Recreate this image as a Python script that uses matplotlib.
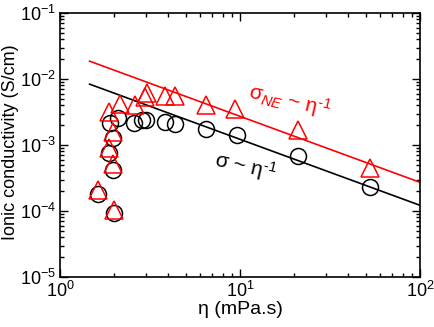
import numpy as np
import matplotlib
matplotlib.use("Agg")
import matplotlib.pyplot as plt
from matplotlib.ticker import LogLocator, NullFormatter

plt.rcParams['font.family'] = ['Liberation Sans', 'DejaVu Sans']
plt.rcParams['mathtext.fontset'] = 'custom'
plt.rcParams['mathtext.rm'] = 'Liberation Sans'
plt.rcParams['mathtext.it'] = 'Liberation Sans:italic'
plt.rcParams['mathtext.bf'] = 'Liberation Sans:bold'

# data
eta_sigma = [1.63, 2.0, 1.86, 1.98, 1.98, 1.90, 2.11, 2.58, 2.84, 3.0, 3.85, 4.35, 6.44, 9.58, 21.1, 52.7]
sigma = [1.81e-4, 9.2e-5, 7.5e-4, 4.2e-4, 1.26e-3, 2.13e-3, 2.53e-3, 2.18e-3, 2.39e-3, 2.39e-3, 2.21e-3, 2.06e-3, 1.75e-3, 1.40e-3, 6.8e-4, 2.33e-4]
eta_ne = [1.63, 2.0, 1.86, 1.98, 1.96, 1.88, 2.15, 2.61, 2.97, 3.05, 3.83, 4.35, 6.44, 9.38, 21.1, 52.7]
sigma_ne = [2.08e-4, 1.03e-4, 8.9e-4, 5.1e-4, 1.59e-3, 3.2e-3, 4.2e-3, 4.0e-3, 5.4e-3, 6.1e-3, 5.6e-3, 5.5e-3, 4.1e-3, 3.47e-3, 1.69e-3, 4.5e-4]
fit_eta = [1.46, 100.0]
fit_c_sigma = 0.0122
fit_c_ne = 0.0272

fig = plt.figure(figsize=(4.35, 3.27), dpi=100)
ax = fig.add_axes([60/435, 1 - 277/327, 360/435, 264/327])

fe = np.array(fit_eta)
ax.plot(fe, fit_c_sigma / fe, color='black', lw=1.2)
ax.plot(fe, fit_c_ne / fe, color='#ff0000', lw=1.2)
ax.plot(eta_sigma, sigma, 'o', ms=11.5, mfc='none', mec='black', mew=1.1)
ax.plot(eta_ne, sigma_ne, '^', ms=12.5, mfc='none', mec='#ff0000', mew=1.1)

ax.set_xscale('log')
ax.set_yscale('log')
ax.set_xlim(1, 100)
ax.set_ylim(1e-5, 1e-1)
ax.xaxis.set_minor_locator(LogLocator(base=10, subs=np.arange(2, 10), numticks=20))
ax.yaxis.set_minor_locator(LogLocator(base=10, subs=np.arange(2, 10), numticks=20))
ax.xaxis.set_minor_formatter(NullFormatter())
ax.yaxis.set_minor_formatter(NullFormatter())
ax.tick_params(which='both', direction='in', top=True, right=True, labelsize=13, width=1)
ax.tick_params(which='major', length=6, pad=3)
ax.tick_params(which='minor', length=3)
for s in ax.spines.values():
    s.set_linewidth(1.2)

ax.set_xlabel('η (mPa.s)', fontsize=14, labelpad=0)
ax.set_ylabel('Ionic conductivity (S/cm)', fontsize=13)
ax.yaxis.set_label_coords(-0.115, 0.51)

ax.text(0.425, 0.42, 'σ ~ η$^{\u2010\\mathit{1}}$', transform=ax.transAxes,
        fontsize=15, color='black', rotation=-13, ha='left', va='baseline',
        rotation_mode='anchor')
ax.text(0.52, 0.68, 'σ$_{\\mathit{NE}}$ ~ η$^{\u2010\\mathit{1}}$', transform=ax.transAxes,
        fontsize=15, color='#ff0000', rotation=-13, ha='left', va='baseline',
        rotation_mode='anchor')

fig.savefig('out.png', dpi=100)
